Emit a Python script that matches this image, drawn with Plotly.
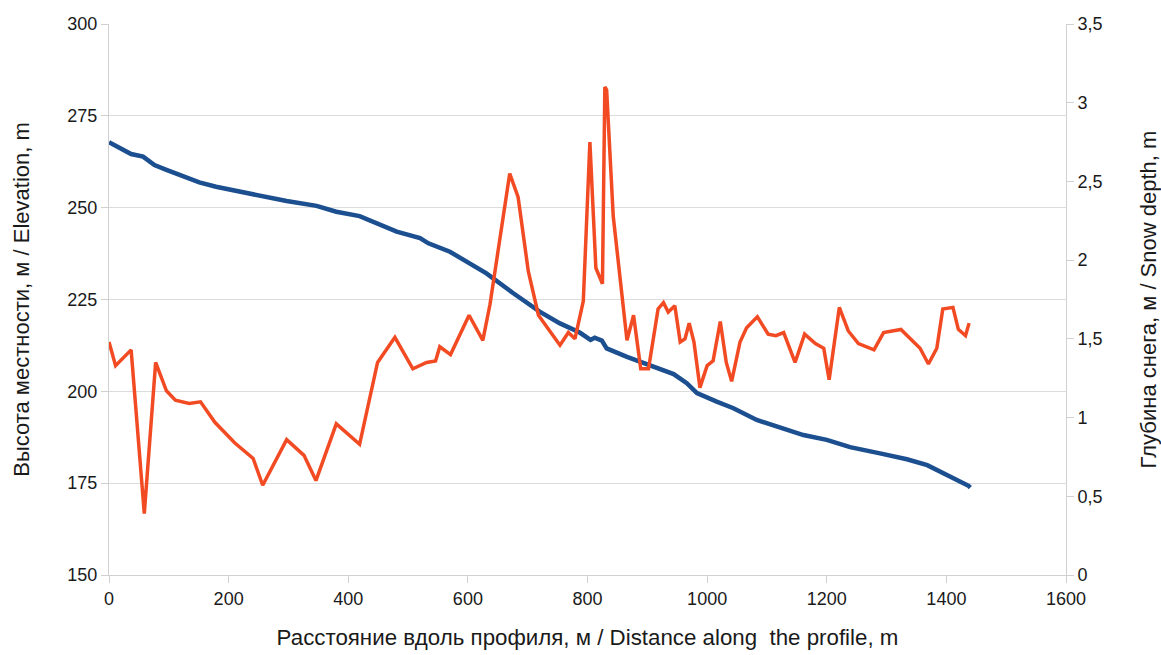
import plotly.graph_objects as go

# Elevation profile (blue)
elev_dist = [0, 37, 57, 76, 96, 118, 151, 179, 213, 257, 297, 347, 380, 419, 447, 481, 520, 534,
             570, 631, 676, 720, 754, 787, 805, 812, 824, 832, 866, 910, 944, 966, 977, 983,
             1016, 1044, 1083, 1122, 1161, 1200, 1239, 1289, 1334, 1368, 1395, 1423, 1437, 1440]
elev_m = [267.8, 264.6, 263.9, 261.6, 260.3, 258.9, 256.9, 255.7, 254.6, 253.2, 251.8, 250.5, 248.9,
          247.7, 245.7, 243.5, 241.7, 240.3, 238.0, 232.1, 226.7, 221.7, 218.5, 216.0, 214.0,
          214.6, 213.8, 211.7, 209.4, 206.9, 204.7, 202.2, 200.6, 199.5, 197.2, 195.4, 192.2,
          190.2, 188.1, 186.8, 184.8, 183.1, 181.5, 179.9, 177.7, 175.6, 174.3, 173.8]

# Snow depth (red)
snow_dist = [0, 11, 37, 59, 78, 96, 111, 134, 153, 177, 210, 241, 257, 297, 326, 346, 380, 419,
             449, 478, 508, 531, 546, 553, 571, 602, 625, 637, 670, 684, 701, 718, 754, 768,
             779, 793, 804, 814, 825, 829, 832, 843, 866, 877, 889, 902, 918, 927, 935, 946,
             955, 963, 970, 978, 988, 1000, 1010, 1022, 1032, 1041, 1055, 1066, 1084, 1102,
             1115, 1128, 1147, 1163, 1181, 1195, 1204, 1221, 1236, 1253, 1279, 1295, 1324,
             1337, 1356, 1370, 1384, 1394, 1411, 1420, 1432, 1438]
snow_m = [1.48, 1.33, 1.43, 0.39, 1.35, 1.17, 1.11, 1.09, 1.10, 0.97, 0.84, 0.74, 0.57, 0.86,
          0.76, 0.60, 0.96, 0.83, 1.35, 1.51, 1.31, 1.35, 1.36, 1.45, 1.40, 1.65, 1.49, 1.72,
          2.55, 2.40, 1.93, 1.65, 1.46, 1.54, 1.50, 1.74, 2.75, 1.95, 1.85, 3.10, 3.08, 2.28,
          1.49, 1.65, 1.31, 1.31, 1.69, 1.73, 1.67, 1.71, 1.48, 1.50, 1.60, 1.48, 1.19, 1.33,
          1.36, 1.61, 1.35, 1.23, 1.48, 1.57, 1.64, 1.53, 1.52, 1.54, 1.35, 1.53, 1.47, 1.44,
          1.24, 1.70, 1.55, 1.47, 1.43, 1.54, 1.56, 1.51, 1.44, 1.34, 1.44, 1.69, 1.70, 1.56,
          1.52, 1.60]

left_ticks = [150, 175, 200, 225, 250, 275, 300]
right_ticks = [0, 0.5, 1, 1.5, 2, 2.5, 3, 3.5]
right_labels = ["0", "0,5", "1", "1,5", "2", "2,5", "3", "3,5"]
x_ticks = [0, 200, 400, 600, 800, 1000, 1200, 1400, 1600]

x_title = "Расстояние вдоль профиля, м / Distance along  the profile, m"
y_title = "Высота местности, м / Elevation, m"
y2_title = "Глубина снега, м / Snow depth, m"

BLUE = "#1c4f8f"
RED = "#f24b23"
AXIS = "#d0d0d0"
GRID = "#dcdcdc"
FONT = "Liberation Sans, Arial, sans-serif"

fig = go.Figure()
fig.add_trace(go.Scatter(x=snow_dist, y=snow_m, mode="lines", yaxis="y2",
                         line=dict(color=RED, width=3.5), name="snow"))
fig.add_trace(go.Scatter(x=elev_dist, y=elev_m, mode="lines", yaxis="y",
                         line=dict(color=BLUE, width=4.5), name="elev"))

fig.update_layout(
    width=1161, height=655,
    margin=dict(l=109, r=95, t=24, b=80, autoexpand=False),
    paper_bgcolor="white", plot_bgcolor="white",
    showlegend=False,
    font=dict(family=FONT, size=18, color="#1a1a1a"),
    xaxis=dict(range=[0, 1600], tickvals=x_ticks, showgrid=False, zeroline=False,
               showline=True, linecolor=AXIS, linewidth=1, automargin=False,
               ticks="outside", ticklen=7, tickcolor=AXIS,
               title=dict(text=x_title, font=dict(size=22.3), standoff=21)),
    yaxis=dict(range=[150, 300], tickvals=left_ticks, showgrid=True, gridcolor=GRID,
               zeroline=False, showline=True, linecolor=AXIS, linewidth=1, automargin=False,
               ticks="outside", ticklen=7, tickcolor=AXIS,
               title=dict(text=y_title, font=dict(size=22), standoff=31)),
    yaxis2=dict(range=[0, 3.5], tickvals=right_ticks, ticktext=right_labels,
                overlaying="y", side="right", showgrid=False, zeroline=False,
                showline=True, linecolor=AXIS, linewidth=1, automargin=False,
                ticks="outside", ticklen=7, tickcolor=AXIS,
                title=dict(text=y2_title, font=dict(size=22), standoff=39)),
)

fig.write_html("out.html")
